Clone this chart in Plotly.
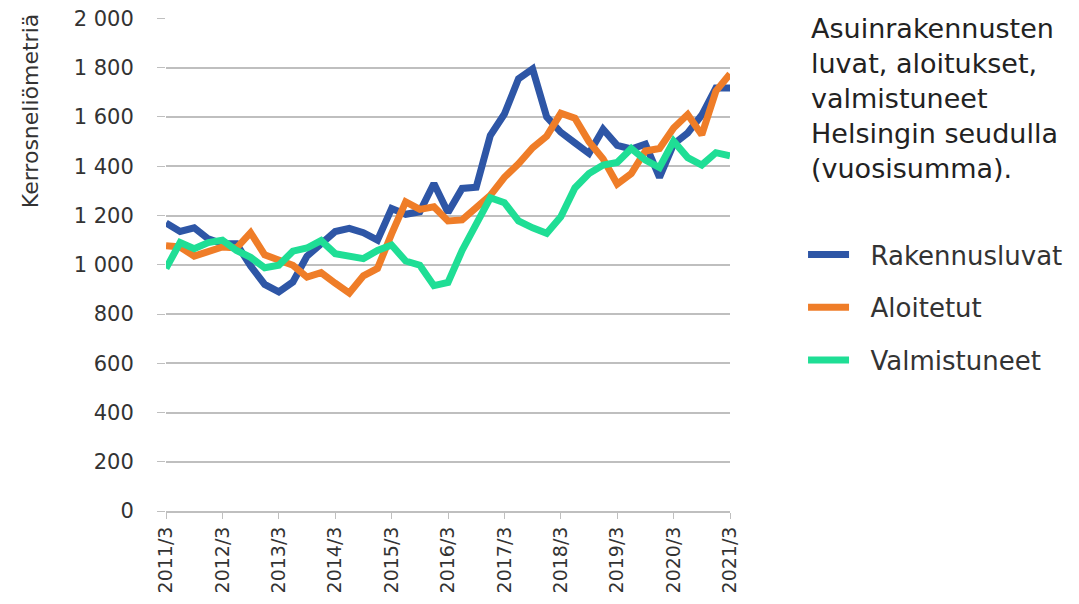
import plotly.graph_objects as go

# quarters 2011/3 .. 2021/3
quarters = [f"{2011 + (q + 2) // 4}/{(q + 2) % 4 + 1}" for q in range(41)]
year_ticks = [f"{y}/3" for y in range(2011, 2022)]

rakennusluvat = [1170, 1135, 1150, 1105, 1085, 1085, 995, 920, 890, 930,
                 1035, 1085, 1135, 1148, 1130, 1100, 1228, 1205, 1215, 1330,
                 1212, 1310, 1315, 1525, 1612, 1755, 1795, 1600, 1538, 1495,
                 1452, 1550, 1485, 1470, 1490, 1355, 1490, 1535, 1608, 1718,
                 1718]
aloitetut = [1077, 1072, 1035, 1050, 1072, 1068, 1130, 1040, 1018, 998,
             950, 968, 925, 885, 955, 985, 1125, 1255, 1225, 1235,
             1178, 1182, 1232, 1282, 1355, 1410, 1475, 1522, 1615, 1595,
             1500, 1430, 1328, 1370, 1462, 1472, 1555, 1610, 1528, 1705,
             1775]
valmistuneet = [985, 1090, 1065, 1090, 1100, 1058, 1030, 988, 998, 1055,
                1068, 1098, 1045, 1038, 1025, 1058, 1080, 1015, 998, 915,
                928, 1058, 1165, 1272, 1252, 1178, 1150, 1128, 1195, 1312,
                1370, 1405, 1415, 1472, 1425, 1395, 1502, 1435, 1405, 1455,
                1442]

series = [
    ("Rakennusluvat", rakennusluvat, "#2e56a6"),
    ("Aloitetut", aloitetut, "#ef7d28"),
    ("Valmistuneet", valmistuneet, "#1fde95"),
]

font = "'DejaVu Sans', sans-serif"
text_col = "#333333"
pad = "\u00a0\u00a0"  # extra room between legend line and label

fig = go.Figure()
for name, vals, color in series:
    fig.add_trace(go.Scatter(x=quarters, y=vals, name=pad + name, mode="lines",
                             legendgroup=name,
                             line=dict(color=color, width=7)))

fig.update_layout(
    width=1063, height=588,
    margin=dict(l=158, r=341, t=10, b=85, autoexpand=False),
    paper_bgcolor="white", plot_bgcolor="white",
    font=dict(family=font, color=text_col),
    separators=", ",
    showlegend=True,
    legend=dict(x=1.1295, y=0.568, xanchor="left", yanchor="top",
                font=dict(size=26, color=text_col), itemwidth=41,
                tracegroupgap=16, bgcolor="rgba(0,0,0,0)"),
    annotations=[
        dict(text="Asuinrakennusten<br>luvat, aloitukset,<br>valmistuneet<br>Helsingin seudulla<br>(vuosisumma).",
             xref="paper", yref="paper", x=1.140, y=1.014, xanchor="left", yanchor="top",
             align="left", showarrow=False, font=dict(size=27, color="#222222")),
        dict(text="Kerrosneliömetriä", textangle=-90,
             xref="paper", yref="paper", x=-0.241, y=1.012, xanchor="center", yanchor="top",
             showarrow=False, font=dict(size=22, color=text_col)),
    ],
)

fig.update_xaxes(
    type="category", range=[0, 40], automargin=False,
    tickmode="array", tickvals=year_ticks, ticktext=year_ticks,
    tickangle=-90, tickfont=dict(size=19, color=text_col),
    ticks="outside", ticklen=6, tickcolor="#bfbfbf",
    showgrid=False, showline=True, linecolor="#bfbfbf", linewidth=2,
    zeroline=False,
)
fig.update_yaxes(
    range=[0, 2002], dtick=200, tickformat=",d", automargin=False,
    tickfont=dict(size=21, color=text_col), ticklabeloverflow="allow",
    ticks="outside", ticklen=8, tickcolor="#bfbfbf", ticklabelstandoff=19,
    showgrid=True, gridcolor="#bfbfbf", gridwidth=1.5,
    zeroline=False, showline=False,
)

fig.write_html("out.html")
